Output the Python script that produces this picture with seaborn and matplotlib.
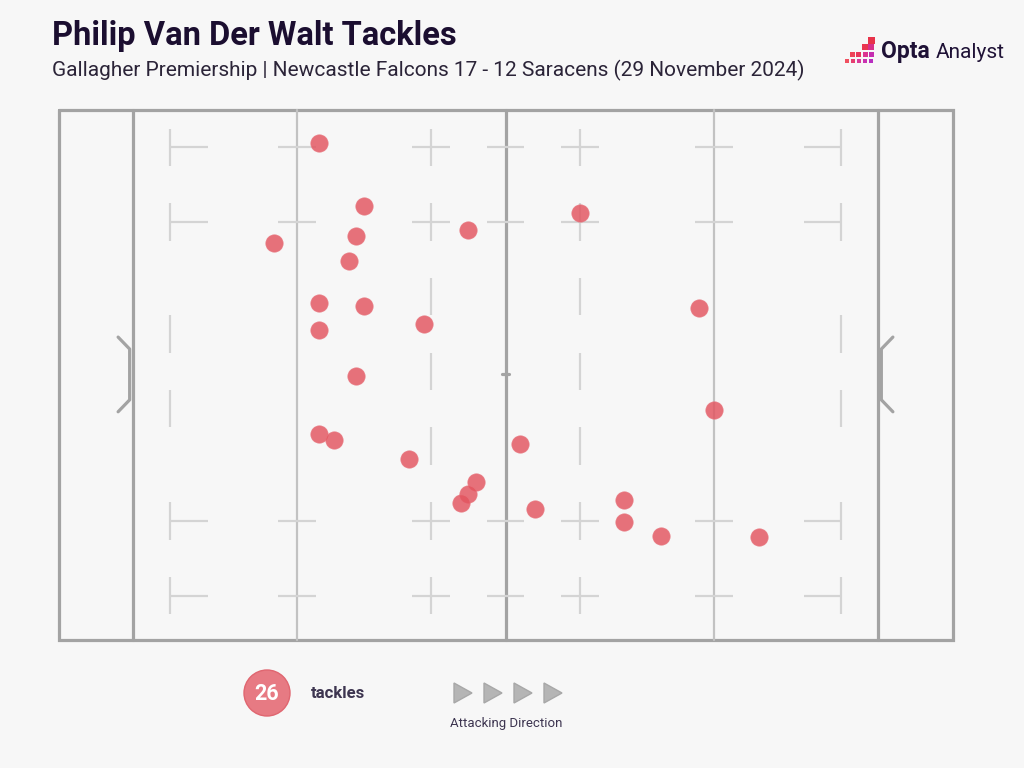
import matplotlib
matplotlib.use("Agg")
import matplotlib.pyplot as plt
import seaborn as sns
import pandas as pd
from matplotlib.patches import Circle, Polygon, Rectangle

# ---------------- data (pitch metres: x 0-100 try line to try line, y 0 at top touchline)
tackle_x = [25.0, 31.0, 29.9, 18.9, 29.0, 45.0, 60.0, 25.0, 31.0, 25.0, 39.1, 76.0, 29.9,
            78.0, 25.0, 27.0, 51.9, 37.0, 46.0, 45.0, 44.0, 54.0, 65.9, 65.9, 70.9, 84.0]
tackle_y = [4.4, 12.9, 16.9, 17.8, 20.2, 16.1, 13.8, 25.8, 26.2, 29.5, 28.6, 26.5, 35.6,
            40.2, 43.4, 44.2, 44.7, 46.7, 49.8, 51.4, 52.6, 53.4, 52.2, 55.2, 57.0, 57.2]
title = "Philip Van Der Walt Tackles"
subtitle = "Gallagher Premiership | Newcastle Falcons 17 - 12 Saracens (29 November 2024)"
total_label = "26"
legend_label = "tackles"
direction_label = "Attacking Direction"

df = pd.DataFrame({"x": tackle_x, "y": tackle_y})

BG = "#f7f7f7"
sns.set_theme(style="white", rc={"figure.facecolor": BG, "axes.facecolor": BG})
plt.rcParams["font.family"] = ["Roboto", "DejaVu Sans"]

fig = plt.figure(figsize=(10.24, 7.68), dpi=100)
fig.patch.set_facecolor(BG)

# pixel mapping: px = 133 + 7.45*x ; py = 110 + 7.47*y
SX, SY, X0, Y0 = 7.45, 7.47, 133.0, 110.0
L, R, T, B = 40, 970, 95, 655
ax = fig.add_axes([L / 1024, (768 - B) / 768, (R - L) / 1024, (B - T) / 768])
ax.set_xlim((L - X0) / SX, (R - X0) / SX)
ax.set_ylim((B - Y0) / SY, (T - Y0) / SY)
ax.axis("off")
ax.set_facecolor(BG)

ybot = (640 - Y0) / SY
main_c, main_w = "#a3a3a3", 2.3
mid_c, mid_w = "#c2c2c2", 1.6
mark_c, mark_w = "#d4d4d4", 1.6

# outer boundary
ax.plot([-10, 110, 110, -10, -10], [0, 0, ybot, ybot, 0], color=main_c, lw=main_w,
        solid_joinstyle="miter", zorder=1)
for xv in [0, 50, 100]:
    ax.plot([xv, xv], [0, ybot], color=main_c, lw=main_w, zorder=1)
for xv in [22, 78]:
    ax.plot([xv, xv], [0, ybot], color=mid_c, lw=mid_w, zorder=1)

def seg(x1, y1, x2, y2):
    ax.plot([x1, x2], [y1, y2], color=mark_c, lw=mark_w, zorder=1, solid_capstyle="butt")

for yy in [5, 15, 55, 65]:
    # 5m lines: T marks
    seg(5, yy - 2.5, 5, yy + 2.5)
    seg(5, yy, 10, yy)
    seg(95, yy - 2.5, 95, yy + 2.5)
    seg(90, yy, 95, yy)
    # 10m lines crosses
    for xv in [40, 60]:
        seg(xv, yy - 2.5, xv, yy + 2.5)
        seg(xv - 2.5, yy, xv + 2.5, yy)
    # 22m and halfway horizontal marks
    for xv in [22, 50, 78]:
        seg(xv - 2.5, yy, xv + 2.5, yy)
for yy in [30, 40]:
    seg(5, yy - 2.5, 5, yy + 2.5)
    seg(95, yy - 2.5, 95, yy + 2.5)
for yy in [25, 35, 45]:
    for xv in [40, 60]:
        seg(xv, yy - 2.5, xv, yy + 2.5)
# centre mark
ax.plot([49.5, 50.5], [35.4, 35.4], color=main_c, lw=main_w, zorder=1)
# goal posts
for sgn, base in [(1, 0), (-1, 100)]:
    ax.plot([base - sgn * 2.0, base - sgn * 0.45, base - sgn * 0.45, base - sgn * 2.0],
            [30.4, 32.0, 38.8, 40.4], color=main_c, lw=main_w, zorder=1)

# tackles
sns.scatterplot(data=df, x="x", y="y", s=155, color="#e3545f", alpha=0.82,
                edgecolor="#e8737c", linewidth=0.6, ax=ax, zorder=3, legend=False)
ax.set_xlabel("")
ax.set_ylabel("")

# ---------------- overlay in pixel coordinates
ov = fig.add_axes([0, 0, 1, 1], zorder=5)
ov.set_xlim(0, 1024)
ov.set_ylim(768, 0)
ov.axis("off")
ov.patch.set_alpha(0)

ov.text(52, 45, title, fontsize=23.5, fontweight="bold", color="#1b0e30", va="baseline",
        ha="left")
ov.text(52, 76, subtitle, fontsize=15, color="#2b2438", va="baseline", ha="left")

# logo
cells = [(4, 0, "#e8334a", 7),
         (3, 1, "#ea3650", 6), (4, 1, "#d8308a", 6),
         (1, 2, "#ee4458", 5), (2, 2, "#e8365a", 5), (3, 2, "#db3590", 5), (4, 2, "#c52db0", 5),
         (0, 3, "#f05060", 4), (1, 3, "#e63f70", 4), (2, 3, "#d9399a", 4), (3, 3, "#c932b0", 4),
         (4, 3, "#b82ec0", 4)]
for c, r, col, size in cells:
    ov.add_patch(Rectangle((843 + 6.2 * c + (7 - size) / 2, 37 + 6.8 * r + (7 - size) / 2),
                           size, size, color=col, lw=0))
ov.text(881, 58, "Opta", fontsize=16.5, fontweight="bold", color="#1f1236", va="baseline",
        ha="left")
ov.text(936, 58, "Analyst", fontsize=15, color="#1f1236", va="baseline", ha="left")

# legend
ov.add_patch(Circle((267, 693), 23, facecolor="#e77a83", edgecolor="#e06670", lw=1.0))
ov.text(267, 694, total_label, fontsize=15.5, fontweight="bold", color="white", ha="center",
        va="center")
ov.text(311, 694, legend_label, fontsize=12, fontweight="bold", color="#3d3550", ha="left",
        va="center")
for cx in [463, 493, 523, 553]:
    ov.add_patch(Polygon([(cx - 9, 683), (cx + 9, 693), (cx - 9, 703)], closed=True,
                         facecolor="#b5b5b5", edgecolor="#a8a8a8", lw=1.0))
ov.text(506, 724, direction_label, fontsize=9.5, color="#3d3550", ha="center", va="center")

fig.savefig("out.png", dpi=100, facecolor=BG)
